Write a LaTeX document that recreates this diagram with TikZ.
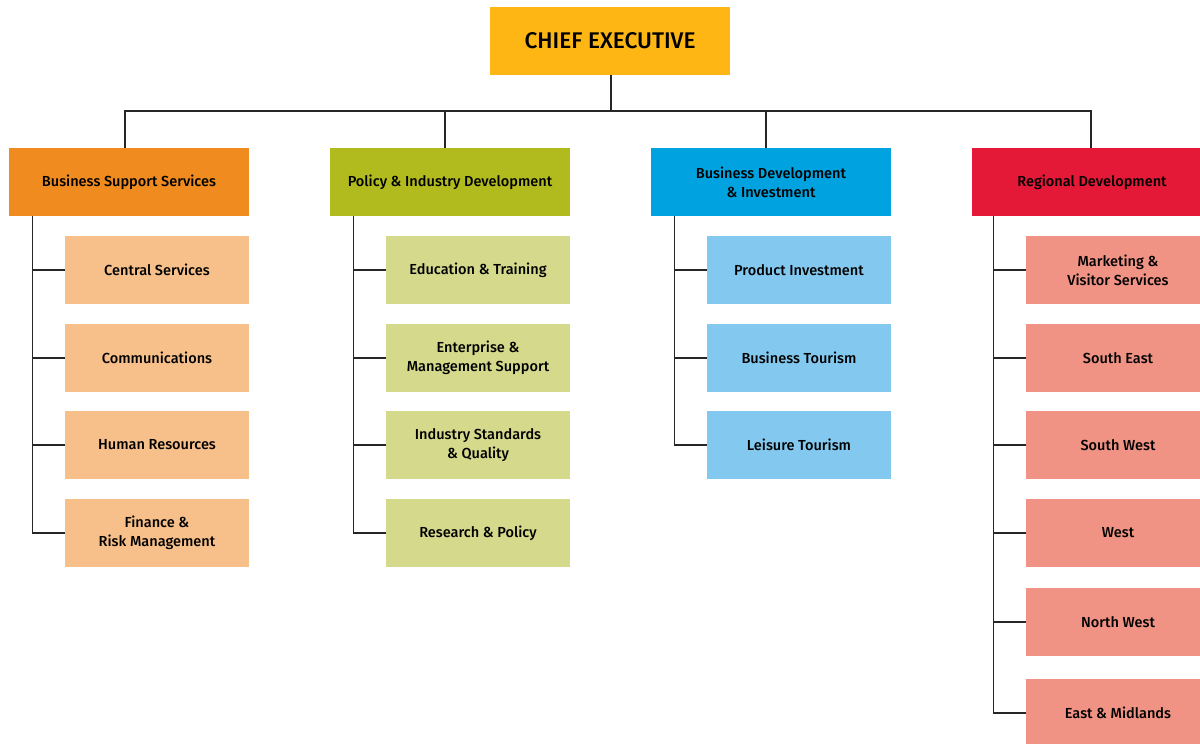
\documentclass[tikz,border=0pt]{standalone}
\usepackage{fontspec}
\setmainfont{Fira Sans}[UprightFont={* Medium}]
\definecolor{ceYellow}{HTML}{FDB614}
\definecolor{bssDark}{HTML}{EF8B1F}
\definecolor{bssLight}{HTML}{F7C08A}
\definecolor{pidDark}{HTML}{B2BB1E}
\definecolor{pidLight}{HTML}{D5D98C}
\definecolor{bdiDark}{HTML}{00A3E0}
\definecolor{bdiLight}{HTML}{83C9EF}
\definecolor{rdDark}{HTML}{E31937}
\definecolor{rdLight}{HTML}{F09384}
\tikzset{
  box/.style={rectangle, inner sep=0pt, align=center, text=black,
    font=\fontsize{10.9pt}{14.5pt}\selectfont, minimum height=51pt},
  topbox/.style={box, fill=ceYellow, minimum width=180pt,
    font=\fontsize{17pt}{20pt}\selectfont},
  headbox/.style={box, minimum width=180pt},
  unitbox/.style={box, minimum width=138pt},
  link/.style={draw=black!85, line width=1.1pt},
}
\begin{document}
\begin{tikzpicture}[x=0.75pt, y=-0.75pt]
\useasboundingbox (0,0) rectangle (1200,743);

% chief executive
\node[topbox] (ce) at (610,41) {CHIEF EXECUTIVE};

% directorates
\node[headbox, fill=bssDark] (bss) at (129,182) {Business Support Services};
\node[headbox, fill=pidDark] (pid) at (450,182) {Policy \& Industry Development};
\node[headbox, fill=bdiDark] (bdi) at (771,182) {Business Development\\\& Investment};
\node[headbox, fill=rdDark]  (rd)  at (1092,182) {Regional Development};

% business support services units
\node[unitbox, fill=bssLight] (bss1) at (157,270) {Central Services};
\node[unitbox, fill=bssLight] (bss2) at (157,358) {Communications};
\node[unitbox, fill=bssLight] (bss3) at (157,445) {Human Resources};
\node[unitbox, fill=bssLight] (bss4) at (157,533) {Finance \&\\Risk Management};

% policy & industry development units
\node[unitbox, fill=pidLight] (pid1) at (478,270) {Education \& Training};
\node[unitbox, fill=pidLight] (pid2) at (478,358) {Enterprise \&\\Management Support};
\node[unitbox, fill=pidLight] (pid3) at (478,445) {Industry Standards\\\& Quality};
\node[unitbox, fill=pidLight] (pid4) at (478,533) {Research \& Policy};

% business development & investment units
\node[unitbox, fill=bdiLight] (bdi1) at (799,270) {Product Investment};
\node[unitbox, fill=bdiLight] (bdi2) at (799,358) {Business Tourism};
\node[unitbox, fill=bdiLight] (bdi3) at (799,445) {Leisure Tourism};

% regional development units
\node[unitbox, fill=rdLight] (rd1) at (1118,270) {Marketing \&\\Visitor Services};
\node[unitbox, fill=rdLight] (rd2) at (1118,358) {South East};
\node[unitbox, fill=rdLight] (rd3) at (1118,445) {South West};
\node[unitbox, fill=rdLight] (rd4) at (1118,533) {West};
\node[unitbox, fill=rdLight] (rd5) at (1118,622) {North West};
\node[unitbox, fill=rdLight] (rd6) at (1118,713) {East \& Midlands};

% top-level bus
\coordinate (bus) at (611,111);
\draw[link] (ce.south -| bus) -- (bus);
\draw[link] ([xshift=-3pt]bss.north) |- (bus);
\draw[link] ([xshift=-3.75pt]pid.north) |- (bus);
\draw[link] ([xshift=-3.75pt]bdi.north) |- (bus);
\draw[link] ([xshift=-0.75pt]rd.north) |- (bus);

% unit spines
\coordinate (bssSpine) at ([xshift=18pt]bss.south west);
\draw[link] (bssSpine) |- (bss4.west);
\foreach \u in {bss1,bss2,bss3} \draw[link] (\u.west) -- (\u.west -| bssSpine);

\coordinate (pidSpine) at ([xshift=18pt]pid.south west);
\draw[link] (pidSpine) |- (pid4.west);
\foreach \u in {pid1,pid2,pid3} \draw[link] (\u.west) -- (\u.west -| pidSpine);

\coordinate (bdiSpine) at ([xshift=18pt]bdi.south west);
\draw[link] (bdiSpine) |- (bdi3.west);
\foreach \u in {bdi1,bdi2} \draw[link] (\u.west) -- (\u.west -| bdiSpine);

\coordinate (rdSpine) at ([xshift=16.5pt]rd.south west);
\draw[link] (rdSpine) |- (rd6.west);
\foreach \u in {rd1,rd2,rd3,rd4,rd5} \draw[link] (\u.west) -- (\u.west -| rdSpine);
\end{tikzpicture}
\end{document}
